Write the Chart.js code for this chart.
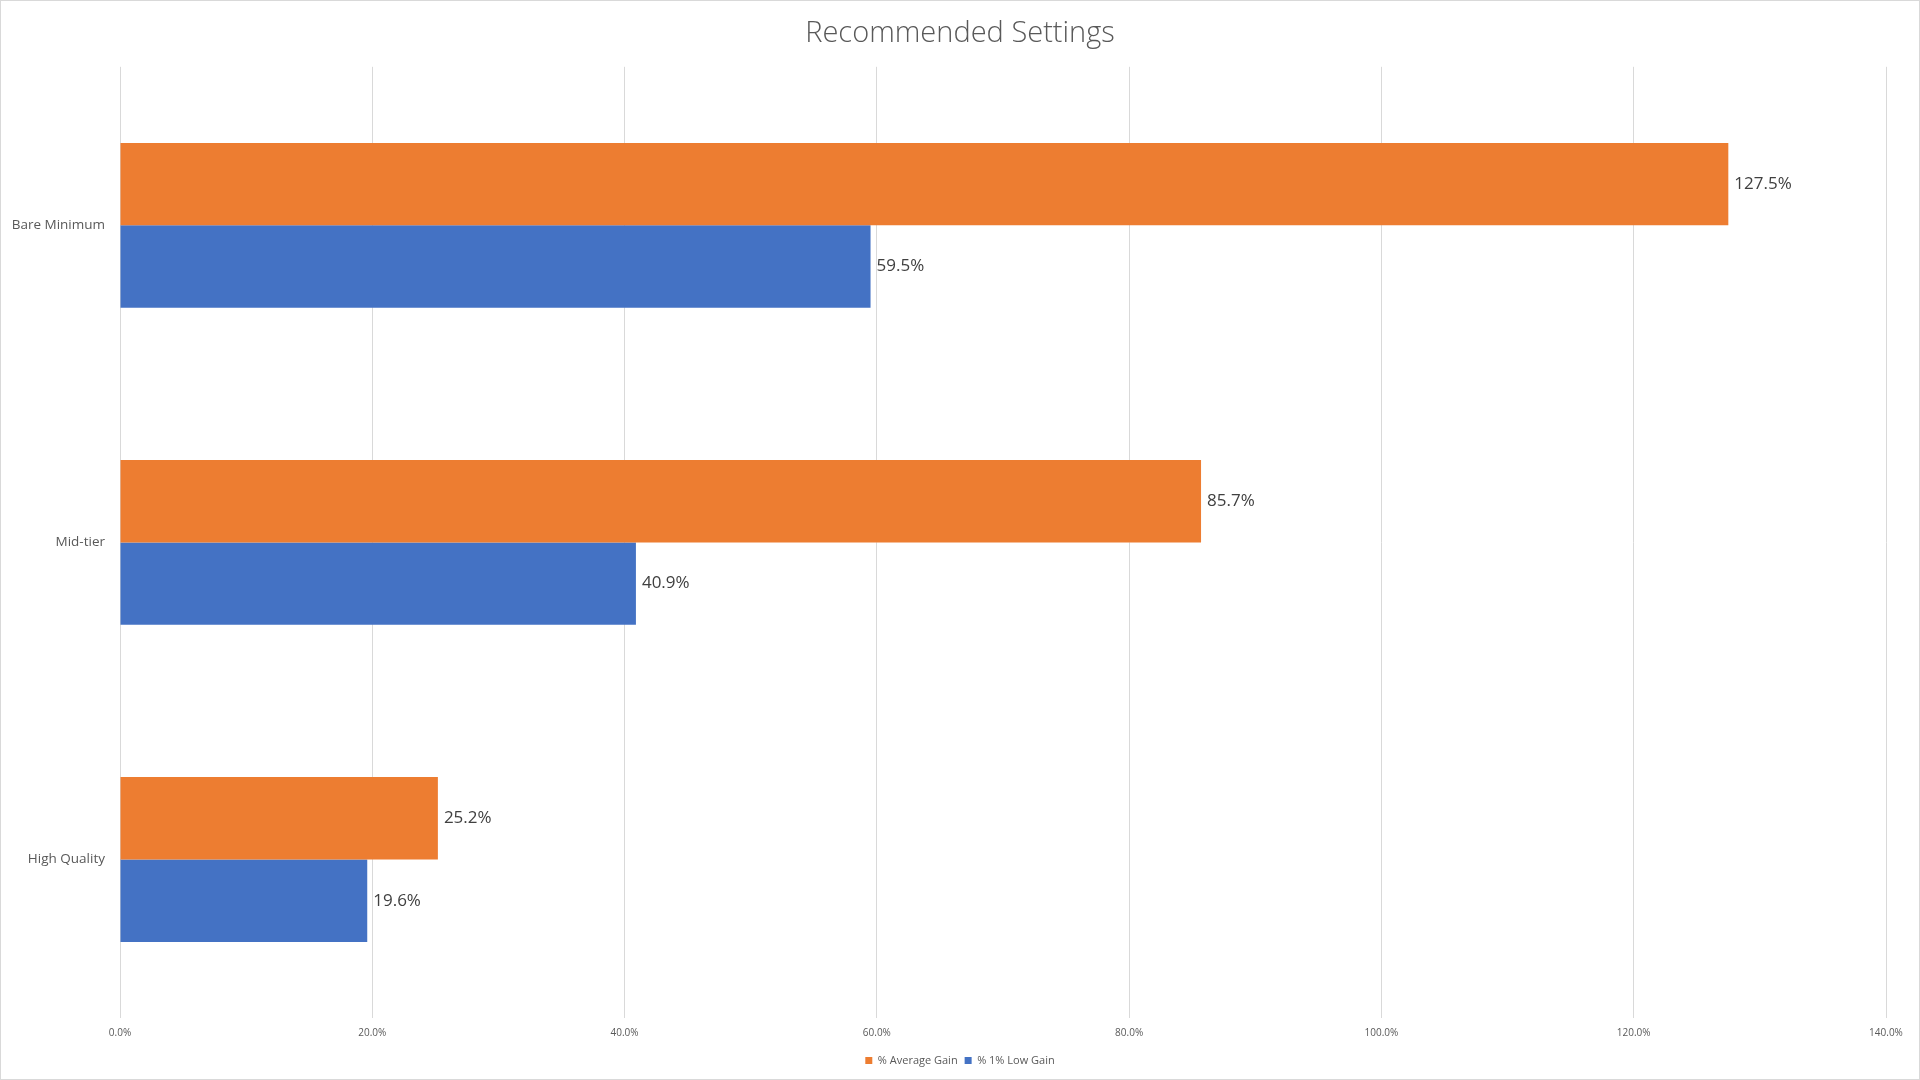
<!DOCTYPE html>
<html lang="en">
<head>
  <meta charset="UTF-8">
  <title>Recommended Settings</title>
  <script src="https://cdn.jsdelivr.net/npm/chart.js"></script>
  <style>
    body {
      margin: 0;
      background: #ffffff;
      overflow: hidden;
    }
    #wrap {
      position: relative;
      width: 1920px;
      height: 1080px;
    }
  </style>
</head>
<body>

<div id="wrap">
  <canvas id="settingsChart" width="1920" height="1080"></canvas>
</div>

<script>
  // chart data
  const categories = ['Bare Minimum', 'Mid-tier', 'High Quality'];
  const avgGain = [127.5, 85.7, 25.2];
  const lowGain = [59.5, 40.9, 19.6];
  const seriesNames = ['% Average Gain', '% 1% Low Gain'];
  const xTicks = [0, 20, 40, 60, 80, 100, 120, 140];

  const textGrey = '#595959';

  // white background + thin frame like the Excel chart area
  const frame = {
    id: 'frame',
    beforeDraw(chart) {
      const ctx = chart.ctx;
      ctx.save();
      ctx.fillStyle = '#ffffff';
      ctx.fillRect(0, 0, chart.width, chart.height);
      ctx.strokeStyle = '#d9d9d9';
      ctx.lineWidth = 1;
      ctx.strokeRect(0.5, 0.5, chart.width - 1, chart.height - 1);
      ctx.restore();
    }
  };

  // value labels at the end of each bar
  const barLabels = {
    id: 'barLabels',
    afterDatasetsDraw(chart) {
      const ctx = chart.ctx;
      ctx.save();
      ctx.font = '17px "Open Sans"';
      ctx.fillStyle = '#404040';
      ctx.textBaseline = 'middle';
      ctx.textAlign = 'left';
      chart.data.datasets.forEach((ds, i) => {
        chart.getDatasetMeta(i).data.forEach((bar, j) => {
          ctx.fillText(ds.data[j].toFixed(1) + '%', bar.x + 6, bar.y);
        });
      });
      ctx.restore();
    }
  };

  const ctx = document.getElementById('settingsChart').getContext('2d');
  new Chart(ctx, {
    type: 'bar',
    data: {
      labels: categories,
      datasets: [
        {
          label: seriesNames[0],
          data: avgGain,
          backgroundColor: '#ed7d31',
          categoryPercentage: 0.52,
          barPercentage: 1.0
        },
        {
          label: seriesNames[1],
          data: lowGain,
          backgroundColor: '#4472c4',
          categoryPercentage: 0.52,
          barPercentage: 1.0
        }
      ]
    },
    options: {
      indexAxis: 'y',
      responsive: false,
      animation: false,
      layout: {
        padding: { left: 0, right: 0, top: 0, bottom: 4 }
      },
      plugins: {
        title: {
          display: true,
          text: 'Recommended Settings',
          color: textGrey,
          font: { family: 'Open Sans', size: 29, weight: '300' },
          padding: { top: 16, bottom: 16 }
        },
        legend: {
          position: 'bottom',
          labels: {
            color: textGrey,
            font: { family: 'Open Sans', size: 11 },
            boxWidth: 7,
            boxHeight: 7,
            padding: 7
          }
        },
        tooltip: { enabled: false }
      },
      scales: {
        x: {
          min: 0,
          max: 140,
          afterBuildTicks: (scale) => {
            scale.ticks = xTicks.map(v => ({ value: v }));
          },
          grid: { color: '#d9d9d9', drawTicks: false },
          border: { display: false },
          ticks: {
            color: textGrey,
            font: { family: 'Open Sans', size: 10 },
            padding: 9,
            maxRotation: 0,
            callback: (v) => Number(v).toFixed(1) + '%'
          }
        },
        y: {
          grid: { display: false, drawTicks: false },
          border: { display: false },
          afterFit: (scale) => { scale.width = 120; },
          ticks: {
            color: textGrey,
            font: { family: 'Open Sans', size: 13.5 },
            padding: 15
          }
        },
        // empty right-hand spacer so the plot ends at 140% like the original
        spacer: {
          type: 'linear',
          position: 'right',
          display: true,
          grid: { display: false, drawTicks: false },
          border: { display: false },
          ticks: { display: false },
          afterFit: (scale) => { scale.width = 34; }
        }
      }
    },
    plugins: [frame, barLabels]
  });
</script>

</body>
</html>
